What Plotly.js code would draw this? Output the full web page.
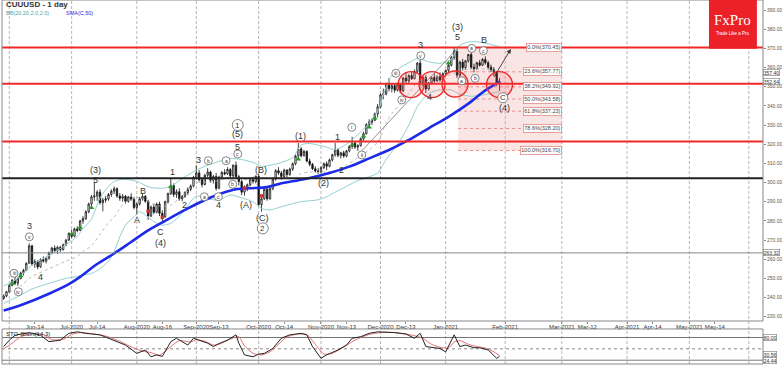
<!DOCTYPE html>
<html><head><meta charset="utf-8">
<script src="https://cdn.plot.ly/plotly-3.0.1.min.js"></script>
<style>html,body{margin:0;padding:0;background:#fff}#chart{width:782px;height:366px}</style>
</head><body><div id="chart"></div>
<script>
// ---------- DATA ----------
const firstBarDate = '2020-05-28';
const open = [239.5,240.8,243.0,246.4,249.0,247.5,250.0,252.8,254.2,258.0,
267.0,257.5,258.8,256.0,259.8,259.0,260.5,263.2,265.8,264.5,
266.2,265.0,267.5,270.0,273.5,272.0,275.8,275.0,280.0,281.2,
284.8,288.8,292.5,293.0,295.0,289.5,290.8,291.5,293.8,295.5,
296.8,293.0,291.8,292.8,290.2,292.5,291.2,287.0,288.8,291.5,
292.8,290.2,282.5,287.2,284.5,288.8,284.0,282.2,290.0,294.2,
298.5,293.8,295.2,291.5,292.8,294.8,296.5,298.2,302.8,305.0,
301.5,299.0,303.8,305.5,301.2,303.2,297.0,302.8,305.2,304.5,
306.8,303.5,309.0,303.0,300.5,295.0,297.5,298.8,301.5,300.5,
303.2,288.5,291.5,296.5,291.5,296.8,301.8,306.2,305.0,303.2,
306.5,304.2,307.0,309.8,313.8,317.5,314.0,316.2,311.2,309.5,
307.2,306.0,305.8,307.8,309.8,308.5,311.8,314.5,317.0,314.2,
315.5,313.8,316.5,318.8,320.5,318.5,319.2,322.8,325.5,330.2,
331.5,332.5,335.8,339.5,345.8,346.2,351.0,349.0,350.5,348.2,
351.2,347.8,354.5,353.0,355.8,354.2,358.0,362.3,352.0,354.8,
348.8,352.0,354.8,353.0,355.2,353.5,356.8,358.5,361.2,365.2,
368.5,356.0,362.8,360.0,363.5,366.8,360.2,359.5,362.5,361.2,
364.2,362.5,360.2,358.8,357.5,352.0];
const high = [241.5,243.5,247.0,249.8,251.0,250.5,253.5,255.0,258.5,268.3,
267.5,260.0,259.5,260.5,261.5,261.0,264.0,266.5,267.2,267.0,
267.0,268.2,270.5,274.0,275.5,276.5,277.2,280.5,282.5,285.5,
289.5,293.5,300.2,296.0,296.5,292.0,293.0,294.5,296.5,298.0,
297.5,294.5,294.0,293.5,293.0,294.5,292.5,289.5,292.5,294.0,
293.5,291.0,288.0,289.0,289.5,290.0,285.5,290.5,294.8,302.4,
299.5,296.5,297.0,293.5,295.5,297.5,299.0,303.5,309.0,306.5,
302.5,304.5,307.5,306.2,304.0,305.0,303.5,306.0,307.0,308.0,
307.5,309.5,311.0,304.0,301.5,298.5,299.5,302.5,303.0,303.8,
304.5,293.0,297.5,298.0,297.5,302.5,307.0,308.0,306.0,307.2,
307.0,307.8,310.5,314.5,320.6,318.5,317.0,316.8,312.5,310.2,
308.5,307.5,308.5,310.5,311.0,312.5,315.0,320.6,318.0,316.0,
316.5,317.0,319.5,323.9,321.5,320.0,323.5,326.5,331.0,333.0,
333.5,336.5,341.0,346.5,349.0,352.0,354.5,351.5,351.8,352.0,
352.0,355.0,357.5,356.5,358.0,359.0,362.8,363.9,355.5,356.0,
352.5,355.5,357.0,356.0,357.5,357.5,359.0,362.0,366.0,370.2,
369.5,363.5,364.5,364.0,367.0,367.8,362.0,363.0,364.0,365.0,
365.8,363.5,361.5,360.2,358.0,354.5];
const low = [238.8,240.2,242.5,245.8,246.5,246.0,249.5,251.5,253.8,257.5,
256.5,255.5,254.8,255.5,258.2,257.8,259.8,262.5,263.5,262.8,
263.8,264.5,266.8,269.5,271.0,271.5,274.0,274.8,278.5,280.5,
284.0,287.5,290.5,290.5,288.5,285.0,289.5,290.5,292.5,294.0,
292.0,290.5,290.0,289.0,289.5,290.5,286.0,283.2,288.0,290.5,
289.5,280.5,282.0,283.5,284.0,282.5,279.8,281.5,289.0,293.5,
292.5,292.0,290.5,290.2,292.0,293.5,295.5,297.5,301.5,300.5,
297.5,298.5,302.5,300.0,299.5,295.8,296.5,302.0,303.8,304.0,
302.5,302.5,302.0,298.5,293.5,293.2,295.5,298.0,299.5,299.8,
287.5,284.8,291.0,290.5,291.0,296.0,301.0,304.0,301.5,302.5,
302.8,303.5,306.0,309.0,312.5,313.0,313.5,310.5,308.5,306.5,
305.2,304.5,304.8,307.0,306.5,308.0,311.0,313.5,313.2,312.5,
313.0,313.2,315.8,317.5,317.5,316.5,318.8,321.8,325.0,329.0,
330.0,332.0,334.0,339.0,343.5,345.5,347.5,347.0,346.8,347.5,
346.5,347.2,352.0,351.5,353.5,353.8,357.0,350.5,350.2,346.7,
348.0,351.2,352.0,352.5,352.5,353.0,355.5,357.5,360.5,364.0,
354.5,355.0,358.5,359.0,362.5,359.2,357.5,358.8,360.5,360.8,
361.5,359.0,357.8,355.5,350.5,347.8];
const close = [240.8,243.0,246.4,249.0,247.5,250.0,252.8,254.2,257.8,267.0,
257.5,258.8,256.0,259.8,259.0,260.5,263.2,265.8,264.5,266.2,
265.0,267.5,270.0,273.5,272.0,275.8,275.0,280.0,281.2,284.8,
288.8,292.5,293.0,295.0,289.5,290.8,291.5,293.8,295.5,296.8,
293.0,291.8,292.8,290.2,292.5,291.2,287.0,288.8,291.5,292.8,
290.2,282.5,287.2,284.5,288.8,284.0,282.2,290.0,294.2,298.5,
293.8,295.2,291.5,292.8,294.8,296.5,298.2,302.8,305.0,301.5,
299.0,303.8,305.5,301.2,303.2,297.0,302.8,305.2,304.5,306.8,
303.5,309.0,303.0,300.5,295.0,297.5,298.8,301.5,300.5,303.2,
288.5,291.5,296.5,291.5,296.8,301.8,306.2,305.0,303.2,306.5,
304.2,307.0,309.8,313.8,317.5,314.0,316.2,311.2,309.5,307.2,
306.0,305.8,307.8,309.8,308.5,311.8,314.5,317.0,314.2,315.5,
313.8,316.5,318.8,320.5,318.5,319.2,322.8,325.5,330.2,331.5,
332.5,335.8,339.5,345.8,346.2,351.0,349.0,350.5,348.2,351.2,
347.8,354.5,353.0,355.8,354.2,358.0,362.3,352.0,354.8,348.8,
352.0,354.8,353.0,355.2,353.5,356.8,358.5,361.2,365.2,368.5,
356.0,362.8,360.0,363.5,366.8,360.2,359.5,362.5,361.2,364.2,
362.5,360.2,358.8,357.5,352.0,352.6];

// SMA(C,50) (bar number, value)
const smaBar = [0,6,16,23,27,33,39,45,51,57,64,71,77,82,87,93,98,106,115,122,129,136,143,150,157,165,169,175];
const smaVal = [233.2,236,242,247,250.8,257.5,263,269,275,280,285.7,290.9,294.4,296.5,297,297.6,299.6,301.7,305,308.3,312.6,317,322.2,328.3,334.3,342.2,347,352.6];

// Bollinger bands
const bbBar = [0,5,10,16,22,26,28,31,34,37,39,41,43,46,48,51,53,56,59,63,68,72,76,80,84,88,91,94,98,102,105,108,111,114,117,121,125,129,132,135,137,140,143,146,150,154,158,161,165,169,172,175];
const bbUp = [246,250,257,262,267.5,272,276,281,292,298,300.5,301.5,301.7,301,300,297.8,297.2,297,298,302,306.5,309,311,312.5,312,310.5,308.5,309,310.5,313,319.6,320.4,319.5,318.5,317,320,325,331,337,350,356,360,362.5,364.8,363,362.2,364.5,371.7,373.5,373,372,370.9];
const bbMid = [241.5,245,251,255,259,261.5,264,267,273,279,282,286.5,289.8,291.6,292.4,290,288.5,287.5,288.3,293,299.8,300.3,301,303,302,300.3,297.5,297.4,299,301,304.8,305.5,305.3,305.5,306,309,313,317,321,331,336,341,346.3,352.2,354.8,355.3,356.4,358.8,359.2,359.3,358.5,357.4];
const bbLo = [237,240.5,244.5,247.4,250,251,251.8,252.6,255,259,264,271.7,277.8,282.2,284.8,282,279.6,277.8,278.7,284,293,291.5,290.9,293.5,292,290,286.5,285.7,287.4,289,290,290.5,291,292.6,295,298,301,303,305,312,316,322,330,339.6,346.5,348.3,348.3,346,345,345.7,346.5,347.4];

// signal markers
const buyBar = [3,6,24,27,31,59,104,123,127,129,131,157];
const buyPx = [247.4,251.2,273.2,276.6,286.9,297.8,312.1,319.6,324.2,328.8,333.5,362.2];
const sellBar = [51,56,85,91];
const sellPx = [285.1,281.9,297,293];

// Stochastic
const stoBar = [0,2,4,9,13,16,20,23,26,29,34,39,43,47,50,52,54,56,59,61,65,67,69,72,74,76,79,82,83,85,88,90,92,95,98,101,105,107,109,112,114,118,121,123,126,129,132,138,142,145,147,149,152,154,156,158,159,161,163,166,168,171,173,174,175];
const stoK = [56,73,86,93,86,69,73,91,95,91,87,73,60,38,47,29,34,30,69,78,60,78,73,65,56,64,73,87,65,34,29,36,38,51,78,87,91,87,56,25,34,47,60,78,82,91,95,93,89,78,91,56,53,51,42,73,87,56,60,53,53,47,34,25,30];
const stoDBar = [0,3,6,10,14,17,21,24,27,31,36,41,45,49,52,55,58,62,66,68,71,74,76,80,83,85,88,91,94,97,100,104,107,110,113,116,119,122,125,129,133,138,143,146,148,151,154,157,159,161,164,167,170,173,175];
const stoD = [50,65,82,90,88,74,75,88,93,90,84,70,55,44,40,33,50,72,68,74,70,60,62,76,82,58,38,34,42,62,82,89,88,62,36,38,50,64,77,88,93,93,88,83,78,62,54,52,68,72,62,56,52,42,32];

// axis ticks
const xTickVals = ['2020-06-12','2020-07-01','2020-07-14','2020-08-03','2020-08-14','2020-09-01','2020-09-11','2020-10-01','2020-10-14','2020-11-02','2020-11-13','2020-12-01','2020-12-14','2021-01-01','2021-02-01','2021-03-01','2021-03-12','2021-04-01','2021-04-14','2021-05-03','2021-05-14'];
const xTickText = ['Jun-14','Jul-2020','Jul-14','Aug-2020','Aug-16','Sep-2020','Sep-13','Oct-2020','Oct-14','Nov-2020','Nov-13','Dec-2020','Dec-13','Jan-2021','Feb-2021','Mar-2021','Mar-12','Apr-2021','Apr-14','May-2021','May-14'];
const monthStarts = ['2020-06-01','2020-07-01','2020-08-03','2020-09-01','2020-10-01','2020-11-02','2020-12-01','2021-01-01','2021-02-01','2021-03-01','2021-04-01','2021-05-03','2021-06-01'];
const yTickVals = [230,240,250,260,270,280,290,300,310,320,330,340,350,360,370,380,390];
const yTickText = yTickVals.map(v => v.toFixed(2));

// levels
const redLevels = [370.4, 351.5, 321.4];
const blackLevel = 302.2;
const grayLevel = 263.32;
const fibPct = ['0.0%','23.6%','38.2%','50.0%','61.8%','78.6%','100.0%'];
const fibVal = [370.45,357.77,349.92,343.58,337.23,328.20,316.70];

// ---------- helpers ----------
function weekdays(start, n) {
  const out = []; const d = new Date(start + 'T00:00:00Z');
  while (out.length < n) { const w = d.getUTCDay(); if (w !== 0 && w !== 6) out.push(d.toISOString().slice(0,10)); d.setUTCDate(d.getUTCDate()+1); }
  return out;
}
const days = weekdays(firstBarDate, 300);
const N = close.length;
function bx(b) {
  const i = Math.floor(b), f = b - i;
  const d = new Date(days[i] + 'T00:00:00Z');
  d.setUTCMinutes(d.getUTCMinutes() + Math.round(f * 1440));
  return d.toISOString().slice(0,16).replace('T',' ');
}
const toX = arr => arr.map(b => days[b]);

// ---------- traces ----------
const F = 'Liberation Sans, Arial, sans-serif';
const traces = [
  {type:'scatter', mode:'lines', x:toX(bbBar), y:bbUp, line:{color:'#93cfd0', width:1, shape:'spline', smoothing:0.7}, hoverinfo:'skip'},
  {type:'scatter', mode:'lines', x:toX(bbBar), y:bbLo, line:{color:'#93cfd0', width:1, shape:'spline', smoothing:0.7}, hoverinfo:'skip'},
  {type:'scatter', mode:'lines', x:toX(bbBar), y:bbMid, line:{color:'#aaaaaa', width:0.8, dash:'dot', shape:'spline', smoothing:0.7}, hoverinfo:'skip'},
  {type:'candlestick', x:days.slice(0,N), open:open, high:high, low:low, close:close,
   increasing:{line:{color:'#111', width:0.8}, fillcolor:'#ffffff'},
   decreasing:{line:{color:'#111', width:0.8}, fillcolor:'#111111'},
   whiskerwidth:0, hoverinfo:'skip'},
  {type:'scatter', mode:'lines', x:toX(smaBar), y:smaVal, line:{color:'#1d2be8', width:2.6, shape:'spline', smoothing:0.8}, hoverinfo:'skip'},
  {type:'scatter', mode:'markers', x:toX(buyBar), y:buyPx, marker:{symbol:'triangle-up', size:5, color:'#2a9a2a'}, hoverinfo:'skip'},
  {type:'scatter', mode:'markers', x:toX(sellBar), y:sellPx, marker:{symbol:'square', size:3.5, color:'#d03030'}, hoverinfo:'skip'},
  {type:'scatter', mode:'lines', x:toX(stoDBar), y:stoD, yaxis:'y2', line:{color:'#e06060', width:0.9, shape:'spline', smoothing:0.5}, hoverinfo:'skip'},
  {type:'scatter', mode:'lines', x:toX(stoBar), y:stoK, yaxis:'y2', line:{color:'#222', width:1}, hoverinfo:'skip'}
];

// ---------- shapes ----------
const shapes = [];
monthStarts.forEach(d => shapes.push({type:'line', xref:'x', yref:'paper', x0:d, x1:d, y0:0, y1:1, layer:'below', line:{color:'#b5b5b5', width:1, dash:'3px,2px'}}));
// fib box
shapes.push({type:'rect', xref:'x', yref:'y', x0:bx(160.4), x1:'2021-03-01', y0:fibVal[6], y1:fibVal[0], layer:'below', fillcolor:'rgba(238,160,160,0.28)', line:{width:0}});
fibVal.forEach(v => shapes.push({type:'line', xref:'x', yref:'y', x0:bx(160.4), x1:bx(190), y0:v, y1:v, layer:'below', line:{color:'rgba(225,120,120,0.8)', width:1, dash:'dot'}}));
// horizontal levels
redLevels.forEach(v => shapes.push({type:'line', xref:'x domain', yref:'y', x0:0, x1:1, y0:v, y1:v, line:{color:'#f02828', width:2}}));
shapes.push({type:'line', xref:'x domain', yref:'y', x0:0, x1:1, y0:blackLevel, y1:blackLevel, line:{color:'#222', width:2}});
shapes.push({type:'line', xref:'x domain', yref:'y', x0:0, x1:1, y0:grayLevel, y1:grayLevel, line:{color:'#888', width:1}});
// channel lines
shapes.push({type:'line', xref:'x', yref:'y', x0:bx(126.4), y0:316.5, x1:bx(160.5), y1:370.5, line:{color:'#777', width:0.8}});
// red circles
[[143.8,351.1],[151.2,351.1],[159.3,351.4],[175.0,351.1]].forEach(([b,p]) => shapes.push({type:'circle', xref:'x', yref:'y', xsizemode:'pixel', ysizemode:'pixel', xanchor:bx(b), yanchor:p, x0:-13, x1:13, y0:-13, y1:13, fillcolor:'rgba(255,90,90,0.16)', line:{color:'#ee2a2a', width:1.4}}));
// stochastic levels
[[80,'solid','#777'],[50,'dot','#888'],[20,'solid','#777']].forEach(([v,dash,c]) => shapes.push({type:'line', xref:'x domain', yref:'y2', x0:0, x1:1, y0:v, y1:v, layer:'below', line:{color:c, width:1, dash:dash}}));
// frames
shapes.push({type:'rect', xref:'x domain', yref:'y domain', x0:0, x1:1, y0:0, y1:1, line:{color:'#888', width:1}});
shapes.push({type:'rect', xref:'x domain', yref:'y2 domain', x0:0, x1:1, y0:0, y1:1, line:{color:'#888', width:1}});
// logo box
shapes.push({type:'rect', xref:'paper', yref:'paper', x0:0.929, x1:0.992, y0:0.866, y1:1.0, fillcolor:'#ec2127', line:{width:0}});

// ---------- annotations ----------
const ann = [];
const plain = [[9.06,277.3,'3'],[13.08,250.9,'4'],[32.25,306.5,'(3)'],[32.25,301.3,'5'],[47.18,280.5,'A'],[49.3,295.7,'B'],[55.44,274.4,'C'],[55.44,268.6,'(4)'],[59.54,305.65,'1'],[63.67,288.3,'2'],[68.71,311.75,'3'],[75.77,288.3,'4'],[82.62,318.7,'5'],[82.62,325.2,'(5)'],[85.55,288.3,'(A)'],[90.85,306.5,'(B)'],[91.45,281.3,'(C)'],[104.86,324.4,'(1)'],[112.84,299.9,'(2)'],[117.78,323.6,'1'],[119.33,306.5,'2'],[147.22,371.7,'3'],[150.25,344.5,'4'],[160.28,381.0,'(3)'],[160.28,375.8,'5'],[169.56,374.35,'B'],[176.6,338.7,'(4)']];
plain.forEach(([b,p,t]) => ann.push({x:bx(b), y:p, xref:'x', yref:'y', xanchor:'center', yanchor:'middle', text:t, showarrow:false, font:{family:F, size:9, color:'#333'}}));
const circ = [[3.66,252.65,'iii',4],[5.18,243.05,'iv',4],[9.06,271.7,'v',4],[70.83,292.6,'a',4],[72.24,311.4,'b',4],[75.77,292.6,'c',4],[78.49,311.4,'a',4],[80.86,299.1,'b',4],[82.62,314.9,'c',4],[82.62,330.0,'1',5.5],[91.45,276.1,'2',5.5],[122.86,328.8,'i',4],[126.39,314.4,'ii',4],[138.39,357.0,'iii',4],[140.51,343.1,'iv',4],[147.22,366.2,'v',4],[161.69,353.1,'a',4],[165.22,370.0,'a',4],[166.39,354.4,'b',4],[169.32,368.8,'c',4],[176.16,344.25,'C',5]];
circ.forEach(([b,p,t,r]) => {
  shapes.push({type:'circle', xref:'x', yref:'y', xsizemode:'pixel', ysizemode:'pixel', xanchor:bx(b), yanchor:p, x0:-r, x1:r, y0:-r, y1:r, fillcolor:'#ffffff', line:{color:'#666', width:0.8}});
  ann.push({x:bx(b), y:p, xref:'x', yref:'y', xanchor:'center', yanchor:'middle', text:t, showarrow:false, font:{family:F, size:r>4?8:5, color:'#333'}});
});
// arrow
ann.push({x:bx(179.0), y:369.7, ax:bx(172.8), ay:354.4, axref:'x', ayref:'y', xref:'x', yref:'y', text:'', showarrow:true, arrowhead:2, arrowsize:1, arrowwidth:0.9, arrowcolor:'#333'});
// fib labels
fibVal.forEach((v,i) => ann.push({x:'2021-03-01', y:v, xref:'x', yref:'y', xanchor:'right', yanchor:'middle', text:fibPct[i]+'('+v.toFixed(2)+')', showarrow:false, font:{family:F, size:5.5, color:'#444'}, bgcolor:'#ffffff', bordercolor:'#e08a8a', borderwidth:0.8, borderpad:0.5}));
// right tags
const tag = (v, yref, txt) => ({x:1, xref:'paper', xanchor:'left', xshift:0, y:v, yref:yref, yanchor:'middle', text:txt, showarrow:false, font:{family:F, size:5, color:'#333'}, bgcolor:'#ffffff', bordercolor:'#888', borderwidth:0.7, borderpad:0});
ann.push(tag(357.40,'y','357.40'), tag(352.64,'y','352.64'), tag(263.32,'y','263.32'));
ann.push(tag(80,'y2','80.00'), tag(35,'y2','30.56'), tag(20,'y2','24.44'));
ann.push({x:0.003, xref:'paper', xanchor:'left', y:1, yref:'y2 domain', yanchor:'top', text:'STO-Short(14,3)', showarrow:false, font:{family:F, size:6, color:'#222'}});
// top-left texts
ann.push({x:0.002, xref:'paper', xanchor:'left', y:0.987, yref:'paper', yanchor:'middle', text:'<b>CUUUSD - 1 day</b>', showarrow:false, font:{family:F, size:8, color:'#333'}});
ann.push({x:0.003, xref:'paper', xanchor:'left', y:0.964, yref:'paper', yanchor:'middle', text:'BB(20,20,2.0,2.0)', showarrow:false, font:{family:F, size:5.5, color:'#4fa6a6'}});
ann.push({x:0.082, xref:'paper', xanchor:'left', y:0.964, yref:'paper', yanchor:'middle', text:'SMA(C,50)', showarrow:false, font:{family:F, size:5.5, color:'#2233dd'}});
// logo
ann.push({x:0.9605, xref:'paper', xanchor:'center', y:0.946, yref:'paper', yanchor:'middle', text:'FxPro', showarrow:false, font:{family:'Liberation Serif, DejaVu Serif, serif', size:15, color:'#ffffff'}});
ann.push({x:0.9605, xref:'paper', xanchor:'center', y:0.909, yref:'paper', yanchor:'middle', text:'Trade Like a Pro', showarrow:false, font:{family:F, size:4.5, color:'#ffffff'}});

const layout = {
  width:782, height:366, margin:{l:2, r:19, t:0, b:2},
  paper_bgcolor:'#ffffff', plot_bgcolor:'#ffffff', showlegend:false,
  xaxis:{type:'date', range:['2020-05-27 10:00','2021-06-08 00:00'], rangebreaks:[{bounds:['sat','mon']}],
    rangeslider:{visible:false}, tickmode:'array', tickvals:xTickVals, ticktext:xTickText, tickangle:0,
    ticks:'outside', ticklen:2, tickcolor:'#888', tickfont:{family:F, size:6, color:'#333'}, ticklabelstandoff:-2,
    showgrid:false, zeroline:false, showline:false, anchor:'y', fixedrange:true},
  yaxis:{domain:[0.1181,1], range:[227.77,395.22], side:'right', tickmode:'array', tickvals:yTickVals, ticktext:yTickText,
    ticks:'outside', ticklen:2, tickcolor:'#888', tickfont:{family:F, size:5, color:'#555'}, showgrid:false, zeroline:false, fixedrange:true},
  yaxis2:{domain:[0,0.0962], range:[9.95,102.5], side:'right', showticklabels:false, showgrid:false, zeroline:false, anchor:'x', fixedrange:true},
  shapes:shapes, annotations:ann
};
Plotly.newPlot('chart', traces, layout, {displayModeBar:false, staticPlot:true});
</script></body></html>
